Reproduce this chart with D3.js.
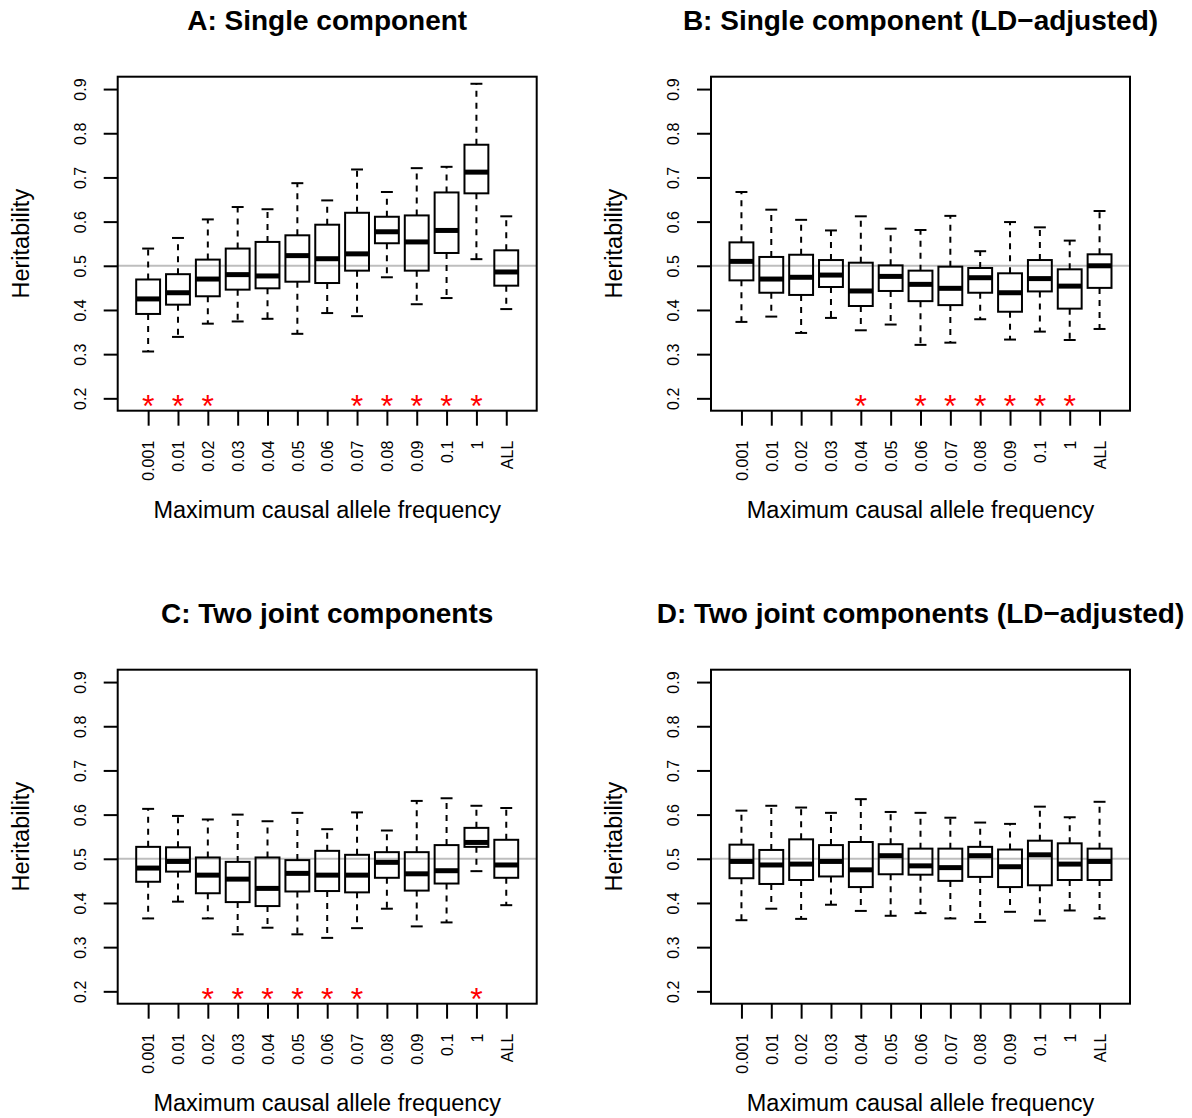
<!DOCTYPE html>
<html>
<head>
<meta charset="utf-8">
<script src="https://cdn.jsdelivr.net/npm/d3@7"></script>
<style>
  body { margin: 0; background: #fff; }
  svg { display: block; font-family: "Liberation Sans", Arial, Helvetica, sans-serif; }
</style>
</head>
<body>
<script>
// categories on the x axis (one box each)
var categories = ['0.001', '0.01', '0.02', '0.03', '0.04', '0.05', '0.06',
                  '0.07', '0.08', '0.09', '0.1', '1', 'ALL'];
var yTicks = [0.2, 0.3, 0.4, 0.5, 0.6, 0.7, 0.8, 0.9];
var refValue = 0.5;
var starValue = 0.2;

var titles = ['A: Single component', 'B: Single component (LD\u2212adjusted)',
              'C: Two joint components', 'D: Two joint components (LD\u2212adjusted)'];

// panel A
var aLow  = [0.306, 0.339, 0.369, 0.374, 0.380, 0.346, 0.393, 0.386, 0.474, 0.413, 0.427, 0.515, 0.402];
var aQ1   = [0.391, 0.412, 0.431, 0.446, 0.449, 0.464, 0.461, 0.489, 0.551, 0.489, 0.529, 0.664, 0.455];
var aMed  = [0.425, 0.439, 0.470, 0.480, 0.477, 0.523, 0.516, 0.527, 0.577, 0.554, 0.580, 0.712, 0.486];
var aQ3   = [0.469, 0.481, 0.514, 0.539, 0.554, 0.569, 0.593, 0.620, 0.611, 0.614, 0.666, 0.774, 0.535];
var aHigh = [0.539, 0.563, 0.605, 0.633, 0.628, 0.687, 0.648, 0.718, 0.667, 0.721, 0.724, 0.912, 0.612];
var aStars = ['0.001', '0.01', '0.02', '0.07', '0.08', '0.09', '0.1', '1'];

// panel B
var bLow  = [0.373, 0.385, 0.348, 0.382, 0.354, 0.367, 0.321, 0.326, 0.379, 0.333, 0.351, 0.332, 0.357];
var bQ1   = [0.467, 0.439, 0.434, 0.452, 0.409, 0.443, 0.420, 0.411, 0.439, 0.396, 0.442, 0.403, 0.450];
var bMed  = [0.510, 0.470, 0.474, 0.479, 0.443, 0.476, 0.458, 0.449, 0.473, 0.439, 0.471, 0.454, 0.500];
var bQ3   = [0.553, 0.520, 0.525, 0.513, 0.507, 0.501, 0.489, 0.498, 0.495, 0.483, 0.513, 0.492, 0.526];
var bHigh = [0.667, 0.627, 0.604, 0.580, 0.612, 0.584, 0.581, 0.613, 0.533, 0.599, 0.587, 0.557, 0.624];
var bStars = ['0.04', '0.06', '0.07', '0.08', '0.09', '0.1', '1'];

// panel C
var cLow  = [0.365, 0.403, 0.365, 0.329, 0.344, 0.329, 0.321, 0.343, 0.387, 0.347, 0.356, 0.472, 0.395];
var cQ1   = [0.448, 0.471, 0.422, 0.402, 0.393, 0.426, 0.427, 0.424, 0.457, 0.428, 0.444, 0.527, 0.457];
var cMed  = [0.479, 0.494, 0.463, 0.454, 0.433, 0.467, 0.463, 0.463, 0.492, 0.466, 0.473, 0.537, 0.486];
var cQ3   = [0.527, 0.526, 0.503, 0.493, 0.503, 0.497, 0.518, 0.509, 0.515, 0.515, 0.531, 0.570, 0.543];
var cHigh = [0.613, 0.597, 0.589, 0.600, 0.585, 0.604, 0.567, 0.605, 0.564, 0.631, 0.637, 0.620, 0.615];
var cStars = ['0.02', '0.03', '0.04', '0.05', '0.06', '0.07', '1'];

// panel D
var dLow  = [0.361, 0.387, 0.364, 0.396, 0.382, 0.371, 0.377, 0.365, 0.357, 0.380, 0.360, 0.383, 0.365];
var dQ1   = [0.456, 0.443, 0.452, 0.460, 0.436, 0.465, 0.464, 0.450, 0.459, 0.436, 0.440, 0.452, 0.452];
var dMed  = [0.494, 0.486, 0.488, 0.494, 0.475, 0.507, 0.484, 0.480, 0.507, 0.482, 0.509, 0.488, 0.494];
var dQ3   = [0.532, 0.520, 0.544, 0.531, 0.538, 0.533, 0.523, 0.523, 0.527, 0.521, 0.541, 0.535, 0.523];
var dHigh = [0.609, 0.620, 0.616, 0.604, 0.635, 0.606, 0.604, 0.593, 0.582, 0.579, 0.618, 0.594, 0.629];
var dStars = [];

var width = 1192, height = 1118;
var plotW = 419, plotH = 334;
var colLeft = [117.7, 711], rowTop = [76.7, 669.7];

var svg = d3.select('body').append('svg')
    .attr('width', width)
    .attr('height', height);

function drawPanel(idx, low, q1, med, q3, high, stars) {
    var left = colLeft[idx % 2], top = rowTop[Math.floor(idx / 2)];
    var bottom = top + plotH, right = left + plotW;

    // R style ranges: 4% padding around xlim c(0.5, n+0.5) and ylim c(0.2, 0.9)
    var n = categories.length;
    var padX = n * 0.04, padY = 0.7 * 0.04;
    var x = d3.scaleLinear().domain([0.5 - padX, n + 0.5 + padX]).range([left, right]);
    var y = d3.scaleLinear().domain([0.2 - padY, 0.9 + padY]).range([bottom, top]);

    var g = svg.append('g');

    // title
    g.append('text')
        .attr('x', (left + right) / 2)
        .attr('y', top - 47)
        .attr('text-anchor', 'middle')
        .style('font-size', '28px')
        .style('font-weight', 'bold')
        .text(titles[idx]);

    // grey reference line
    g.append('line')
        .attr('x1', left).attr('x2', right)
        .attr('y1', y(refValue)).attr('y2', y(refValue))
        .attr('stroke', '#bebebe')
        .attr('stroke-width', 2);

    var rows = categories.map(function(c, i) {
        return {pos: i + 1, low: low[i], q1: q1[i], med: med[i], q3: q3[i], high: high[i]};
    });

    var box = g.selectAll('g.box').data(rows).enter().append('g').attr('class', 'box');

    // whiskers
    box.append('line')
        .attr('x1', function(d) { return x(d.pos); })
        .attr('x2', function(d) { return x(d.pos); })
        .attr('y1', function(d) { return y(d.q3); })
        .attr('y2', function(d) { return y(d.high); })
        .attr('stroke', '#000').attr('stroke-width', 2)
        .attr('stroke-dasharray', '6,6');
    box.append('line')
        .attr('x1', function(d) { return x(d.pos); })
        .attr('x2', function(d) { return x(d.pos); })
        .attr('y1', function(d) { return y(d.q1); })
        .attr('y2', function(d) { return y(d.low); })
        .attr('stroke', '#000').attr('stroke-width', 2)
        .attr('stroke-dasharray', '6,6');
    // staples
    ['low', 'high'].forEach(function(k) {
        box.append('line')
            .attr('x1', function(d) { return x(d.pos - 0.2); })
            .attr('x2', function(d) { return x(d.pos + 0.2); })
            .attr('y1', function(d) { return y(d[k]); })
            .attr('y2', function(d) { return y(d[k]); })
            .attr('stroke', '#000').attr('stroke-width', 2);
    });
    // boxes
    box.append('rect')
        .attr('x', function(d) { return x(d.pos - 0.4); })
        .attr('width', function(d) { return x(d.pos + 0.4) - x(d.pos - 0.4); })
        .attr('y', function(d) { return y(d.q3); })
        .attr('height', function(d) { return y(d.q1) - y(d.q3); })
        .attr('fill', 'none')
        .attr('stroke', '#000').attr('stroke-width', 2);
    // medians
    box.append('line')
        .attr('x1', function(d) { return x(d.pos - 0.4); })
        .attr('x2', function(d) { return x(d.pos + 0.4); })
        .attr('y1', function(d) { return y(d.med); })
        .attr('y2', function(d) { return y(d.med); })
        .attr('stroke', '#000').attr('stroke-width', 5);

    // significance stars
    g.selectAll('text.star').data(stars).enter().append('text')
        .attr('class', 'star')
        .attr('x', function(d) { return x(categories.indexOf(d) + 1); })
        .attr('y', y(starValue))
        .attr('dy', '0.58em')
        .attr('text-anchor', 'middle')
        .attr('fill', '#ff0000')
        .style('font-size', '32px')
        .text('*');

    // y axis
    var yAxis = g.append('g')
        .attr('transform', 'translate(' + left + ',0)')
        .call(d3.axisLeft(y).tickValues(yTicks).tickSize(14).tickFormat(d3.format('.1f')));
    yAxis.select('.domain').remove();
    yAxis.selectAll('line').attr('stroke', '#000').attr('stroke-width', 2);
    yAxis.selectAll('text')
        .attr('x', null).attr('dy', null)
        .attr('text-anchor', 'middle')
        .attr('transform', 'translate(-32,0) rotate(-90)')
        .attr('fill', '#000')
        .style('font-size', '16px')
        .style('font-family', null);

    // x axis
    var xAxis = g.append('g')
        .attr('transform', 'translate(0,' + bottom + ')')
        .call(d3.axisBottom(x).tickValues(d3.range(1, n + 1)).tickSize(15)
            .tickFormat(function(d) { return categories[d - 1]; }));
    xAxis.select('.domain').remove();
    xAxis.selectAll('line').attr('stroke', '#000').attr('stroke-width', 2);
    xAxis.selectAll('text')
        .attr('y', null).attr('dy', '0.36em')
        .attr('text-anchor', 'end')
        .attr('transform', 'translate(0,30) rotate(-90)')
        .attr('fill', '#000')
        .style('font-size', '16px')
        .style('font-family', null);

    // axis titles
    g.append('text')
        .attr('x', (left + right) / 2)
        .attr('y', bottom + 107)
        .attr('text-anchor', 'middle')
        .style('font-size', '23.5px')
        .text('Maximum causal allele frequency');
    g.append('text')
        .attr('transform', 'translate(' + (left - 89) + ',' + ((top + bottom) / 2) + ') rotate(-90)')
        .attr('text-anchor', 'middle')
        .style('font-size', '23.5px')
        .text('Heritability');

    // frame
    g.append('rect')
        .attr('x', left).attr('y', top)
        .attr('width', plotW).attr('height', plotH)
        .attr('fill', 'none')
        .attr('stroke', '#000').attr('stroke-width', 2);
}

drawPanel(0, aLow, aQ1, aMed, aQ3, aHigh, aStars);
drawPanel(1, bLow, bQ1, bMed, bQ3, bHigh, bStars);
drawPanel(2, cLow, cQ1, cMed, cQ3, cHigh, cStars);
drawPanel(3, dLow, dQ1, dMed, dQ3, dHigh, dStars);
</script>
</body>
</html>
